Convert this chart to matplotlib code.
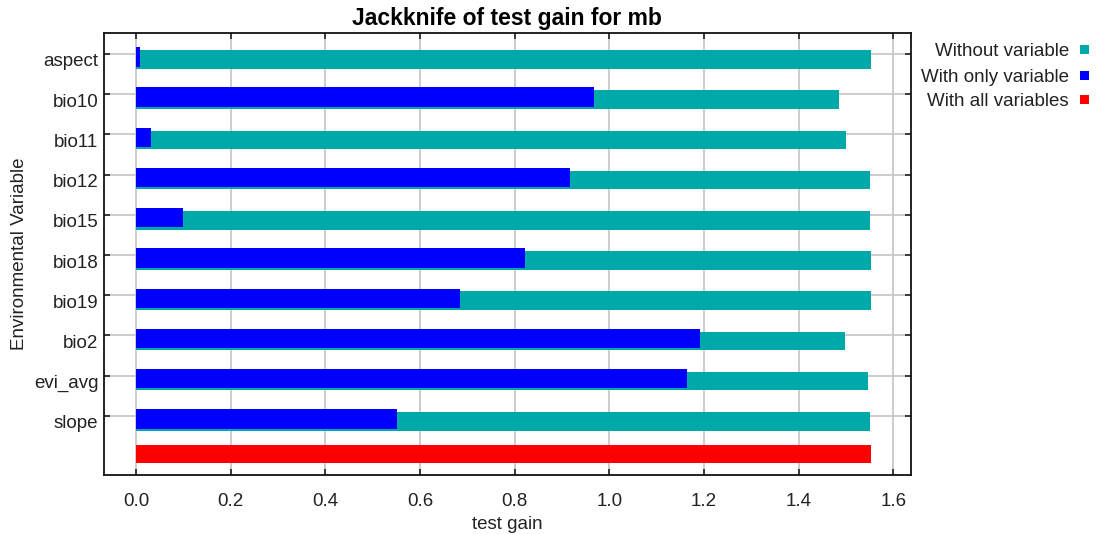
import matplotlib
matplotlib.use("Agg")
import matplotlib.pyplot as plt
from matplotlib.patches import Rectangle
from matplotlib.transforms import ScaledTranslation

variables = ["aspect", "bio10", "bio11", "bio12", "bio15", "bio18", "bio19", "bio2", "evi_avg", "slope"]
without_variable = [1.554, 1.485, 1.501, 1.551, 1.551, 1.553, 1.553, 1.498, 1.547, 1.551]
with_only_variable = [0.0085, 0.968, 0.032, 0.918, 0.099, 0.821, 0.685, 1.192, 1.165, 0.552]
with_all_variables = 1.5535
x_ticks = [0.0, 0.2, 0.4, 0.6, 0.8, 1.0, 1.2, 1.4, 1.6]
legend_labels = ["Without variable", "With only variable", "With all variables"]

TEAL = "#00a9a9"
BLUE = "#0000ff"
RED = "#ff0000"

plt.rcParams["font.family"] = ["Liberation Sans", "DejaVu Sans"]

fig = plt.figure(figsize=(11, 5.35), dpi=100)
ax = fig.add_axes([104/1100, 60/535, (910.7-104)/1100, (475-33)/535])

pos = list(range(len(variables)))
ax.barh([p + 0.137 for p in pos], without_variable, height=0.46, color=TEAL, zorder=2)
ax.barh([p + 0.075 for p in pos], with_only_variable, height=0.48, color=BLUE, zorder=3)
ax.barh([len(variables) - 0.05], [with_all_variables], height=0.455, color=RED, zorder=3)

ax.set_xlim(-0.0676, 1.637)
ax.set_ylim(10.47, -0.52)
ax.set_xticks(x_ticks)
ax.set_xticklabels([f"{v:.1f}" for v in x_ticks])
ax.set_yticks(pos)
ax.set_yticklabels(variables)

ax.grid(True, color="#c8c8c8", linewidth=1.3, zorder=0)
ax.set_axisbelow(True)
for s in ax.spines.values():
    s.set_linewidth(1.3)
    s.set_color("#111111")

ax.tick_params(axis="both", direction="in", length=4.5, width=1.1, color="#111111",
               top=True, right=True, labelsize=13.5, labelcolor="#222222")
ax.tick_params(axis="x", pad=13)
ax.tick_params(axis="y", pad=4)

# y tick labels sit a little below their tick marks in the reference
offset = ScaledTranslation(0, -6/100, fig.dpi_scale_trans)
for lab in ax.get_yticklabels():
    lab.set_transform(lab.get_transform() + offset)

ax.set_title("Jackknife of test gain for mb", fontsize=16.5, fontweight="bold", pad=6)
ax.set_xlabel("test gain", fontsize=13.5, color="#222222", labelpad=4)
ax.set_ylabel("Environmental Variable", fontsize=13.5, color="#222222", labelpad=4)

# legend on the right
leg_y = [51.5, 77, 101.5]
sq_y = [49.5, 75, 99.5]
leg_colors = [TEAL, BLUE, RED]
for lbl, yy, sy, c in zip(legend_labels, leg_y, sq_y, leg_colors):
    fig.text(1069/1100, 1 - yy/535, lbl, ha="right", va="center", fontsize=13.5, color="#222222")
    fig.patches.append(Rectangle((1080/1100, 1 - (sy + 4.5)/535), 9/1100, 9/535,
                                 transform=fig.transFigure, facecolor=c, edgecolor="none"))

fig.savefig("out.png", dpi=100)
